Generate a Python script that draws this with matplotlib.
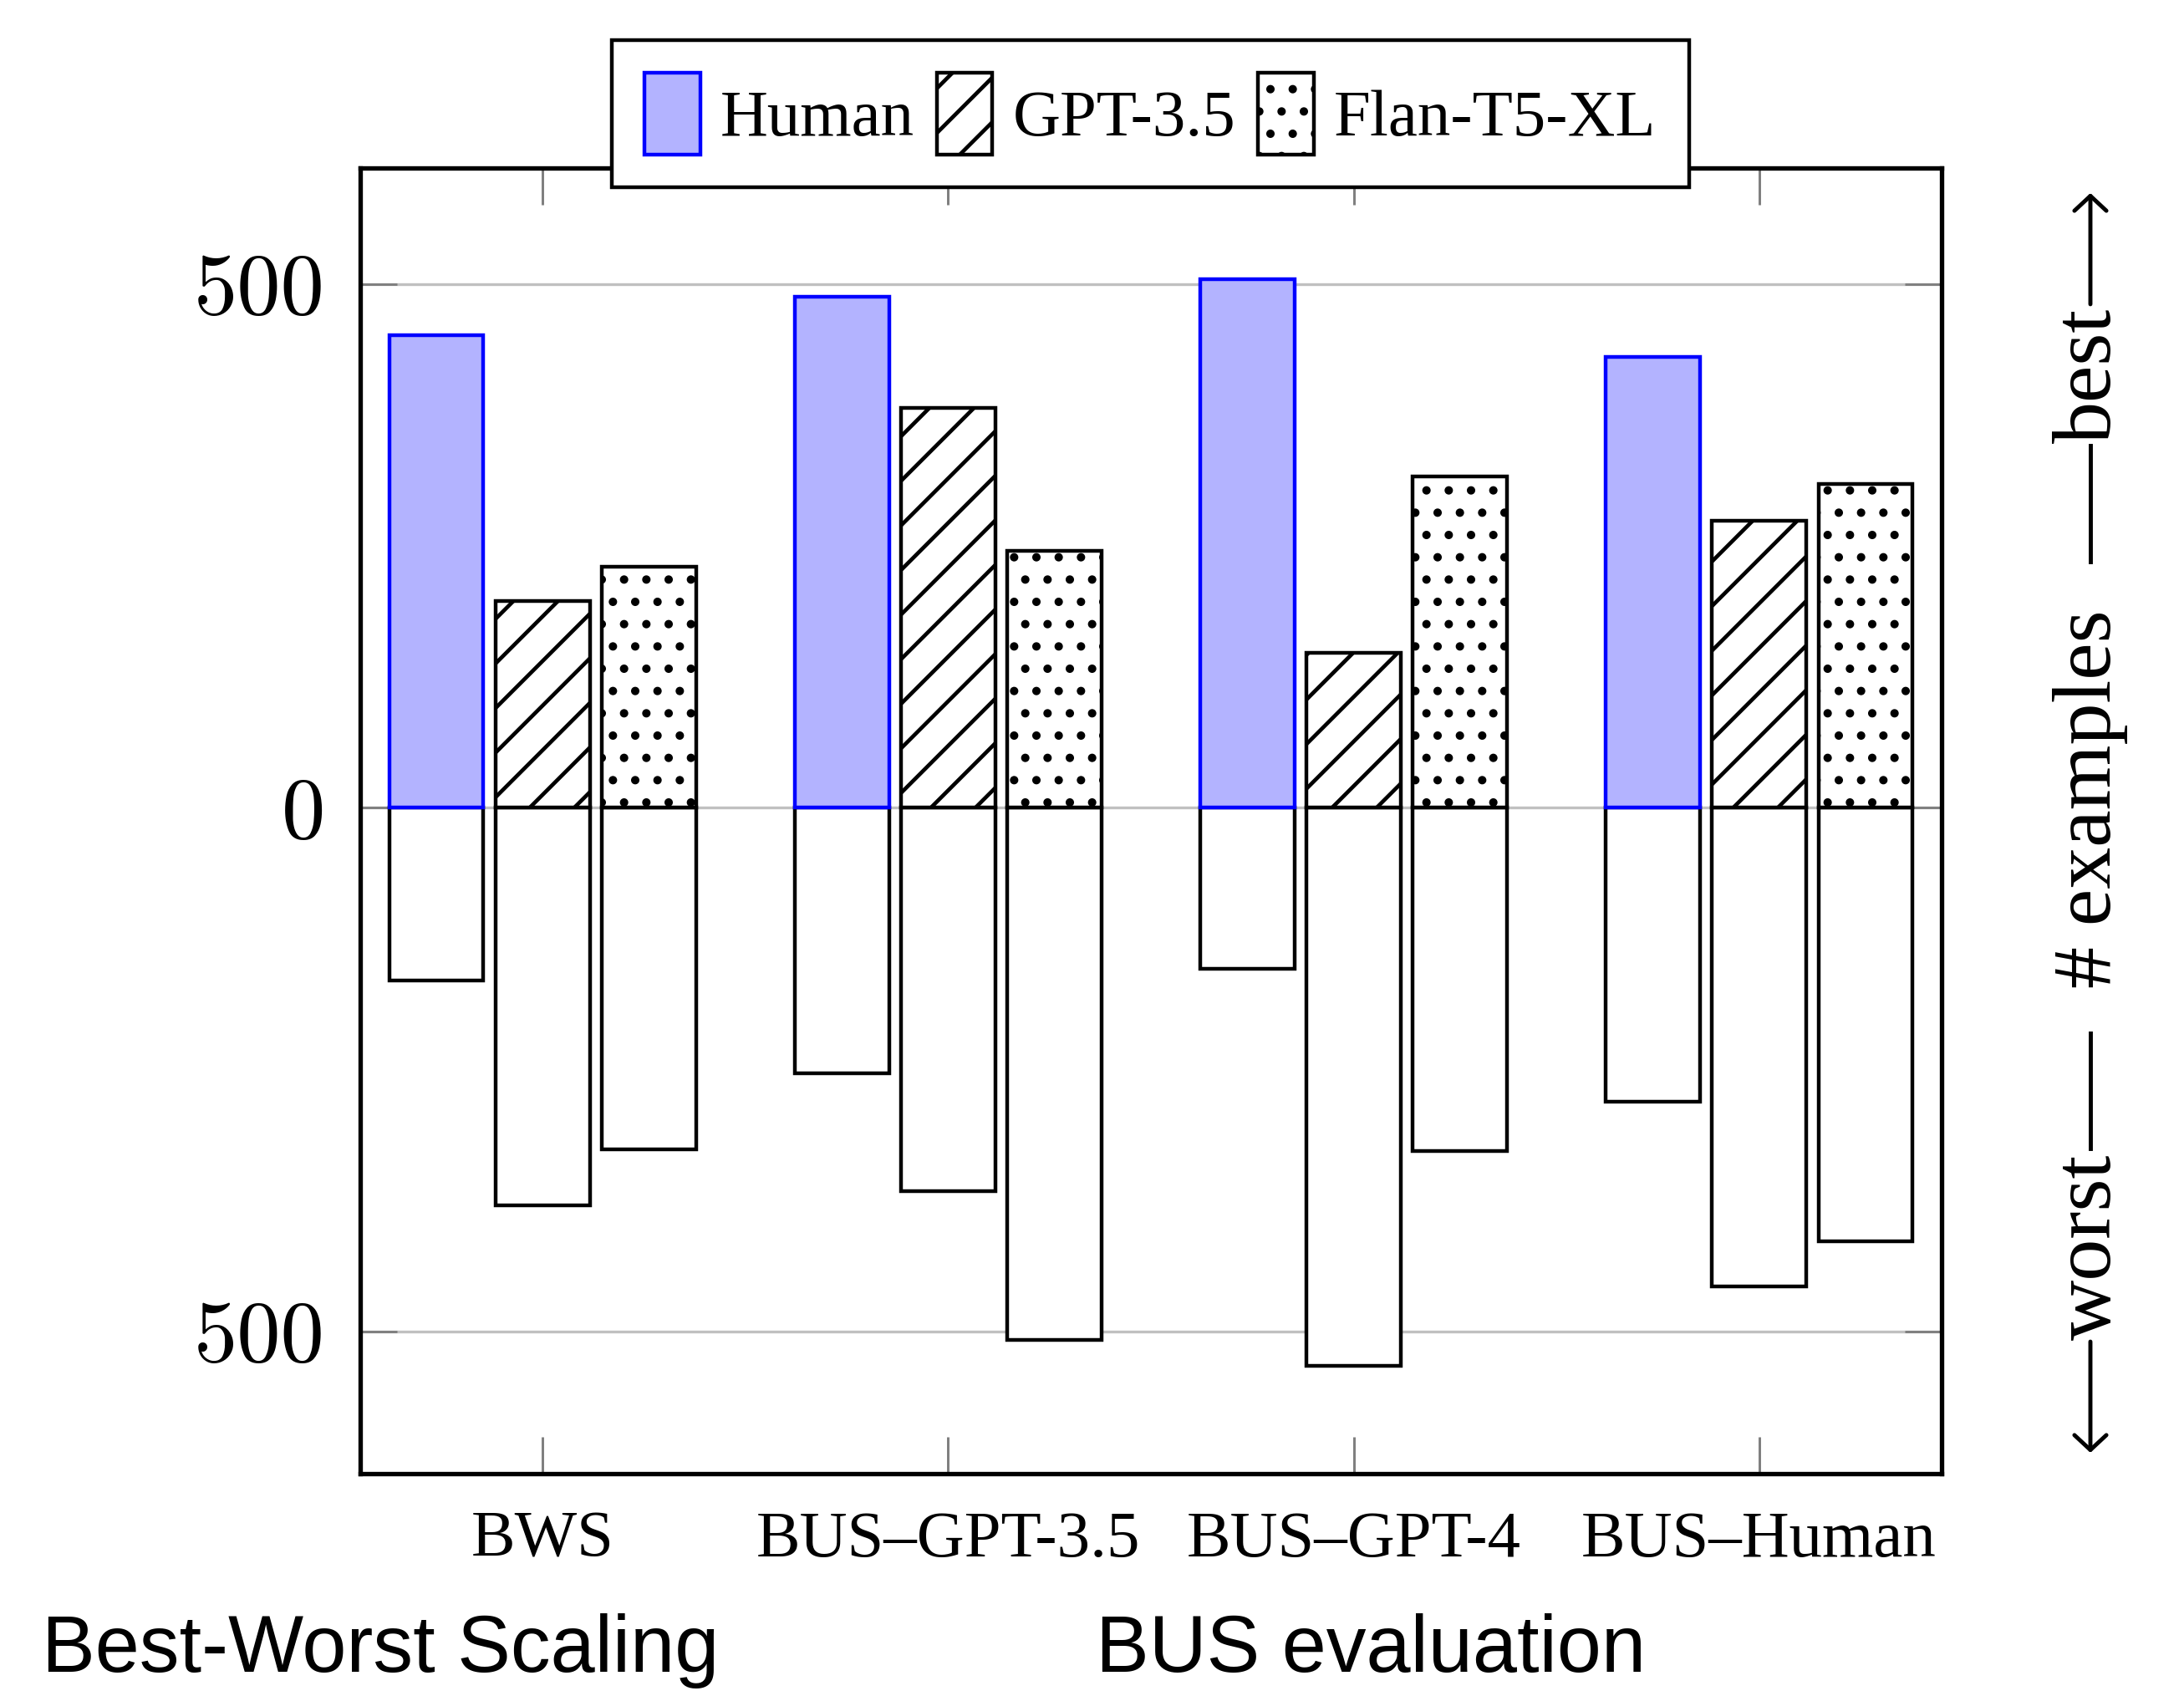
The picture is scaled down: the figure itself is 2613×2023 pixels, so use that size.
import numpy as np
import matplotlib
matplotlib.use("Agg")
import matplotlib.pyplot as plt
from matplotlib.ticker import FuncFormatter
from matplotlib.patches import FancyArrowPatch
from matplotlib.lines import Line2D

# data (number of examples judged best / worst)
categories = ["BWS", "BUS\u2013GPT-3.5", "BUS\u2013GPT-4", "BUS\u2013Human"]
systems = ["Human", "GPT-3.5", "Flan-T5-XL"]
human_best = [451, 488, 505, 430]
human_worst = [165, 254, 154, 281]
gpt_best = [197, 382, 148, 274]
gpt_worst = [380, 366, 533, 457]
flan_best = [230, 245, 316, 309]
flan_worst = [326, 508, 328, 414]

plt.rcParams["font.family"] = ["Liberation Serif", "DejaVu Serif"]
plt.rcParams["hatch.linewidth"] = 2.1

DPI = 160
fig = plt.figure(figsize=(2613 / DPI, 2023 / DPI), dpi=DPI)
ax = fig.add_axes([0.16494, 0.12852, 0.72407, 0.77227])

x = np.arange(len(categories))
w = 0.232
off = 0.262
edge_lw = 2.0

styles = [
    dict(facecolor="#b3b3ff", edgecolor="#0000ff", hatch=None),
    dict(facecolor="white", edgecolor="black", hatch="/"),
    dict(facecolor="white", edgecolor="black", hatch="."),
]
best = [human_best, gpt_best, flan_best]
worst = [human_worst, gpt_worst, flan_worst]

handles = []
for i in range(3):
    pos = x + (i - 1) * off
    ax.bar(pos, [-v for v in worst[i]], w, facecolor="white",
           edgecolor="black", linewidth=edge_lw, zorder=2)
for i in range(3):
    pos = x + (i - 1) * off
    b = ax.bar(pos, best[i], w, linewidth=edge_lw, label=systems[i], zorder=3,
               **styles[i])
    handles.append(b)

ax.set_xlim(-0.45, 3.45)
ax.set_ylim(-636, 611)
ax.set_yticks([-500, 0, 500])
ax.yaxis.set_major_formatter(FuncFormatter(lambda v, p: f"{abs(v):.0f}"))
ax.set_xticks(x)
ax.set_xticklabels(categories, fontsize=35.5)
for lab in ax.get_yticklabels():
    lab.set_fontfamily("cmr10")
    lab.set_fontsize(47)

ax.set_axisbelow(True)
ax.yaxis.grid(True, color="#c0c0c0", linewidth=1.5)
ax.xaxis.grid(False)
ax.tick_params(axis="x", top=True, bottom=True, direction="in", length=20,
               width=1.35, color="#808080", pad=20)
ax.tick_params(axis="y", left=True, right=True, direction="in", length=20,
               width=1.35, color="#808080", pad=19)
for s in ax.spines.values():
    s.set_linewidth(2.4)

leg = fig.legend(handles=handles, loc="center", bbox_to_anchor=(0.5268, 0.9328),
                 ncol=3, fontsize=35.5, handlelength=0.84, handleheight=1.53,
                 handletextpad=0.31, columnspacing=0.34, borderpad=0.5,
                 fancybox=False, edgecolor="black", framealpha=1)
leg.get_frame().set_linewidth(2.0)

# right-hand label: <- worst -- # examples -- best ->
xb = 0.96632
xl = 0.95714
for txt, yc in [("best", 0.7781), ("# examples", 0.5274), ("worst", 0.2625)]:
    fig.text(xb, yc, txt, rotation=90, rotation_mode="anchor", ha="center",
             va="baseline", fontsize=45)
for y0, y1 in [(0.7365, 0.6678), (0.3890, 0.3208)]:
    fig.add_artist(Line2D([xl, xl], [y0, y1], transform=fig.transFigure,
                          color="black", linewidth=2.2))
for y0, y1 in [(0.8201, 0.8858), (0.2066, 0.1409)]:
    fig.add_artist(FancyArrowPatch((xl, y0), (xl, y1), transform=fig.transFigure,
                                   arrowstyle="->,head_length=0.4,head_width=0.43",
                                   mutation_scale=20, linewidth=2.2, color="black",
                                   shrinkA=0, shrinkB=0))

fig.text(0.0191, 0.0112, "Best-Worst Scaling", fontsize=43, va="baseline",
         family="Liberation Sans")
fig.text(0.5017, 0.0112, "BUS evaluation", fontsize=43, va="baseline",
         family="Liberation Sans")

fig.savefig("out.png", dpi=DPI, facecolor="white")
